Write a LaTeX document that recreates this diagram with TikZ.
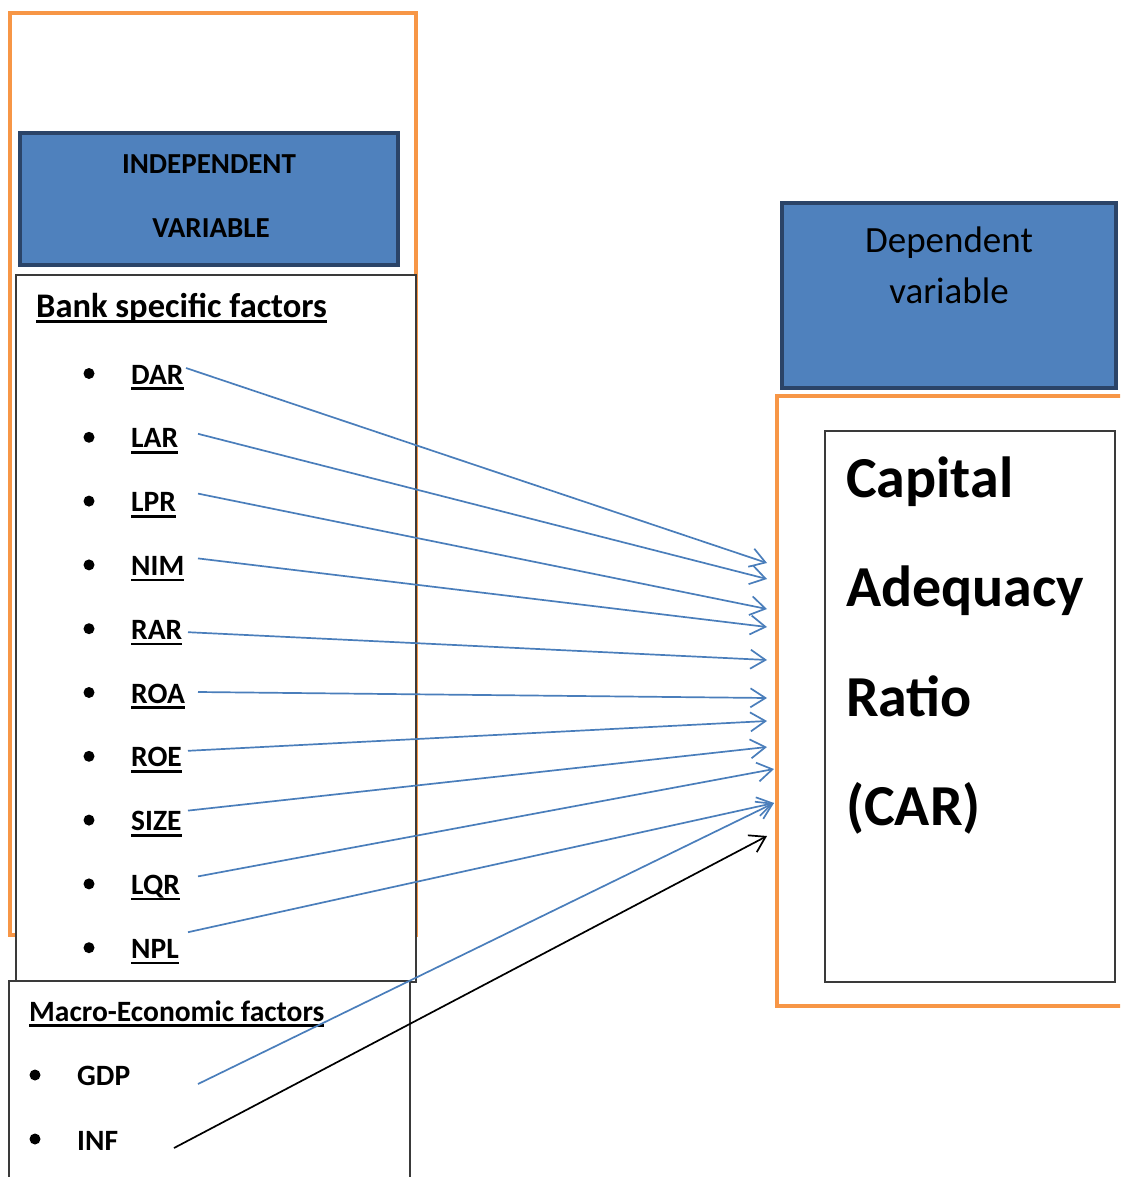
\documentclass[tikz,border=0pt]{standalone}
\usepackage{fontspec}
\setmainfont{Carlito}
\usetikzlibrary{arrows.meta,calc}
\definecolor{orangeline}{HTML}{F79646}
\definecolor{boxblue}{HTML}{4F81BD}
\definecolor{boxedge}{HTML}{2B4468}
\definecolor{arrowblue}{HTML}{4A7EBB}
\definecolor{framegray}{HTML}{3A3A3A}
% thick underline below a word
\newcommand{\ulx}[1]{\setbox0\hbox{#1}\rlap{\rule[-6pt]{\wd0}{2.6pt}}\box0}

\begin{document}
\begin{tikzpicture}[x=1pt,y=-1pt,
  orangebox/.style={draw=orangeline, line width=4pt},
  bluebox/.style={draw=boxedge, fill=boxblue, line width=4.5pt},
  framebox/.style={draw=framegray, fill=white, line width=1.4pt},
  item/.style={anchor=base west, inner sep=0pt, font=\fontsize{29.5}{35}\selectfont\bfseries},
  heading/.style={anchor=base west, inner sep=0pt, font=\fontsize{34.5}{40}\selectfont\bfseries},
  subheading/.style={anchor=base west, inner sep=0pt, font=\fontsize{29.5}{35}\selectfont\bfseries},
  boxtitle/.style={anchor=base, inner sep=0pt, font=\fontsize{29}{35}\selectfont\bfseries},
  deptitle/.style={anchor=base, inner sep=0pt, font=\fontsize{37}{44}\selectfont},
  bigtext/.style={anchor=base west, inner sep=0pt, font=\fontsize{58}{70}\selectfont\bfseries},
  dot/.style={fill=black},
  link/.style={draw=arrowblue, line width=1.7pt,
    -{Straight Barb[length=15pt,width=19pt,line width=1.7pt]}},
  inflink/.style={draw=black, line width=1.7pt,
    -{Straight Barb[length=15pt,width=19pt,line width=1.7pt]}}]
\useasboundingbox (0,0) rectangle (1120,1177);
\clip (0,0) rectangle (1120,1177);

% ---- left column ----
\draw[orangebox] (10,13) rectangle (416,935);
\draw[bluebox] (20,133) rectangle (398,265);
\node[boxtitle] (indep1) at (209,174) {INDEPENDENT};
\node[boxtitle] (indep2) at (211,237) {VARIABLE};

\draw[framebox] (16,275) rectangle (416,982);
\node[heading] (bank) at (36,317) {\ulx{Bank specific factors}};

\foreach \name/\txt [count=\i from 0] in
  {dar/DAR,lar/LAR,lpr/LPR,nim/NIM,rar/RAR,roa/ROA,roe/ROE,size/SIZE,lqr/LQR,npl/NPL}{
  \fill[dot] (89,{373.5+63.8*\i}) circle (5.5);
  \node[item] (\name) at (131,{384+63.8*\i}) {\ulx{\txt}};
}

\draw[framebox] (9,981) rectangle (410,1185);
\node[subheading] (macro) at (29,1021) {\ulx{Macro-Economic factors}};
\fill[dot] (35,1075) circle (5.5);
\node[item] (gdp) at (77,1085) {GDP};
\fill[dot] (35,1139) circle (5.5);
\node[item] (inf) at (77,1150) {INF};

% ---- right column ----
\draw[bluebox] (782,203) rectangle (1116,388);
\node[deptitle] (dep1) at (949,252) {Dependent};
\node[deptitle] (dep2) at (949,303) {variable};

\draw[orangebox] (777,396) rectangle (1130,1006);
\draw[framebox] (825,431) rectangle (1115,982);
\node[bigtext] (car1) at (846,497) {Capital};
\node[bigtext] (car2) at (846,606) {Adequacy};
\node[bigtext] (car3) at (846,716) {Ratio};
\node[bigtext] (car4) at (846,825) {(CAR)};

% ---- arrow targets on the CAR frame ----
\coordinate (tdar) at (767,563);
\coordinate (tlar) at (767,579);
\coordinate (tlpr) at (767,609);
\coordinate (tnim) at (767,627);
\coordinate (trar) at (767,660);
\coordinate (troa) at (767,698);
\coordinate (troe) at (767,721);
\coordinate (tsize) at (767,747);
\coordinate (tlqr) at (774,769);
\coordinate (tnpl) at (774,803);
\coordinate (tgdp) at (774,803);
\coordinate (tinf) at (767,836);

% ---- connectors ----
\draw[link] ($(dar.base west)+(55,-16)$) -- (tdar);
\draw[link] ($(lar.base west)+(67,-14)$) -- (tlar);
\draw[link] ($(lpr.base west)+(67,-18)$) -- (tlpr);
\draw[link] ($(nim.base west)+(67,-17)$) -- (tnim);
\draw[link] ($(rar.base west)+(57,-7)$) -- (trar);
\draw[link] ($(roa.base west)+(67,-11)$) -- (troa);
\draw[link] ($(roe.base west)+(57,-16)$) -- (troe);
\draw[link] ($(size.base west)+(57,-20)$) -- (tsize);
\draw[link] ($(lqr.base west)+(67,-18)$) -- (tlqr);
\draw[link] ($(npl.base west)+(57,-26)$) -- (tnpl);
\draw[link] ($(gdp.base west)+(121,-1)$) -- (tgdp);
\draw[inflink] ($(inf.base west)+(97,-2)$) -- (tinf);
\end{tikzpicture}
\end{document}
